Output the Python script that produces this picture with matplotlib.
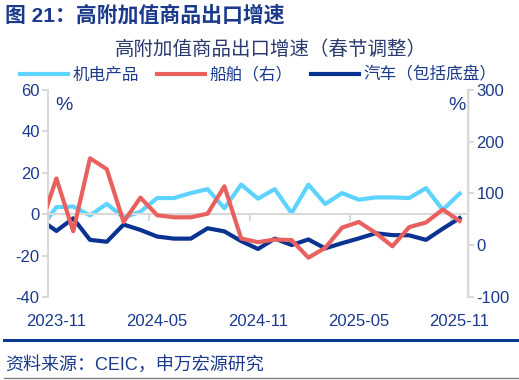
import numpy as np
import matplotlib
matplotlib.use("Agg")
import matplotlib.pyplot as plt
from matplotlib.lines import Line2D

plt.rcParams['font.family'] = ['Liberation Sans', 'Noto Sans CJK SC', 'DejaVu Sans']
plt.rcParams['axes.unicode_minus'] = False

# monthly data, 2023-10 .. 2025-11 (first month only partly visible)
months = ['2023-10', '2023-11', '2023-12', '2024-01', '2024-02', '2024-03', '2024-04',
          '2024-05', '2024-06', '2024-07', '2024-08', '2024-09', '2024-10', '2024-11',
          '2024-12', '2025-01', '2025-02', '2025-03', '2025-04', '2025-05', '2025-06',
          '2025-07', '2025-08', '2025-09', '2025-10', '2025-11']
jidian = [-7.4, 3.4, 3.7, -0.6, 5.0, -1.6, 1.2, 7.8, 7.8, 10.2, 12.1, 2.9, 14.3,
          7.5, 12.1, 0.5, 14.3, 4.9, 10.2, 7.0, 8.1, 8.1, 7.8, 12.6, 2.1, 9.9]
chuanbo = [33, 129, 27, 168, 147, 45, 92, 58, 54, 54, 61, 114, 13,
           6, 11, 10, -24, -5, 34, 45, 24, -2, 35, 44, 69, 47]
qiche = [-2.3, -8.1, -2.0, -12.4, -13.3, -5.0, -7.6, -10.8, -11.8, -11.8, -6.8, -8.3, -13.0,
         -16.8, -11.8, -14.9, -12.2, -16.5, -14.0, -11.7, -9.2, -10.1, -10.2, -12.4, -7.0, -1.9]
tick_months = ['2023-11', '2024-05', '2024-11', '2025-05', '2025-11']

navy_txt = '#1B3A8C'
grid_gray = '#D9D9D9'

fig = plt.figure(figsize=(5.19, 3.80), dpi=100)
ax = fig.add_axes([0.0925, 0.2184, 0.8092, 0.5448])
ax2 = ax.twinx()

x = np.arange(len(months))
l1, = ax.plot(x, jidian, color='#5DD3FF', lw=3, label='机电产品')
l3, = ax.plot(x, qiche, color='#0A3391', lw=3, label='汽车（包括底盘）')
l2, = ax2.plot(x, chuanbo, color='#E8615F', lw=3, label='船舶（右）')

ax.set_xlim(0.5, len(months) - 0.5)
ax.set_ylim(-40, 60)
ax2.set_ylim(-100, 300)
ax.set_yticks([-40, -20, 0, 20, 40, 60])
ax2.set_yticks([-100, 0, 100, 200, 300])

# x axis sits on the zero line
for s in ['top']:
    ax.spines[s].set_visible(False)
    ax2.spines[s].set_visible(False)
ax2.spines['bottom'].set_visible(False)
ax.spines['bottom'].set_position(('data', 0))
ax.spines['bottom'].set_color(grid_gray)
ax.spines['bottom'].set_linewidth(1.5)
ax.spines['left'].set_color(grid_gray)
ax.spines['left'].set_linewidth(1.5)
ax2.spines['left'].set_visible(False)
ax2.spines['right'].set_color(grid_gray)
ax2.spines['right'].set_linewidth(1.5)

tick_pos = [months.index(m) for m in tick_months]
ax.set_xticks(tick_pos)
ax.set_xticklabels(tick_months)
ax.set_xticks([p + 5.5 for p in tick_pos[:-1]], minor=True)
ax.tick_params(axis='x', which='major', length=0, pad=72, labelsize=12, labelcolor=navy_txt)
ax.tick_params(axis='x', which='minor', length=5, width=1.5, color=grid_gray, direction='out')
ax.tick_params(axis='y', length=4, width=1.5, color=grid_gray, labelsize=12, labelcolor=navy_txt, pad=2)
ax2.tick_params(axis='y', length=4, width=1.5, color=grid_gray, labelsize=12, labelcolor=navy_txt, pad=2)

ax.text(0.038, 0.925, '%', transform=ax.transAxes, ha='center', va='center', fontsize=14, color=navy_txt)
ax.text(0.974, 0.925, '%', transform=ax.transAxes, ha='center', va='center', fontsize=14, color=navy_txt)

fig.legend(handles=[l1, l2, l3], loc='center', bbox_to_anchor=(0.497, 0.803), ncol=3,
           frameon=False, fontsize=12, handlelength=2.9, handletextpad=0.25,
           columnspacing=1.1, labelcolor=navy_txt)

fig.text(0.0096, 1 - 15 / 380, '图 21：高附加值商品出口增速', fontsize=15, fontweight='bold',
         color=navy_txt, ha='left', va='center')
fig.text(0.522, 1 - 50 / 380, '高附加值商品出口增速（春节调整）', fontsize=14,
         color='#2A3B6E', ha='center', va='center')
fig.text(0.0096, 1 - 365 / 380, '资料来源：CEIC，申万宏源研究', fontsize=13,
         color=navy_txt, ha='left', va='center')

fig.add_artist(Line2D([0.008, 0.998], [1 - 340 / 380] * 2, color='#0A3A94', lw=2.2))
fig.add_artist(Line2D([0.008, 0.998], [0.006] * 2, color='#7F7F7F', lw=1))

fig.savefig('out.png', dpi=100)
